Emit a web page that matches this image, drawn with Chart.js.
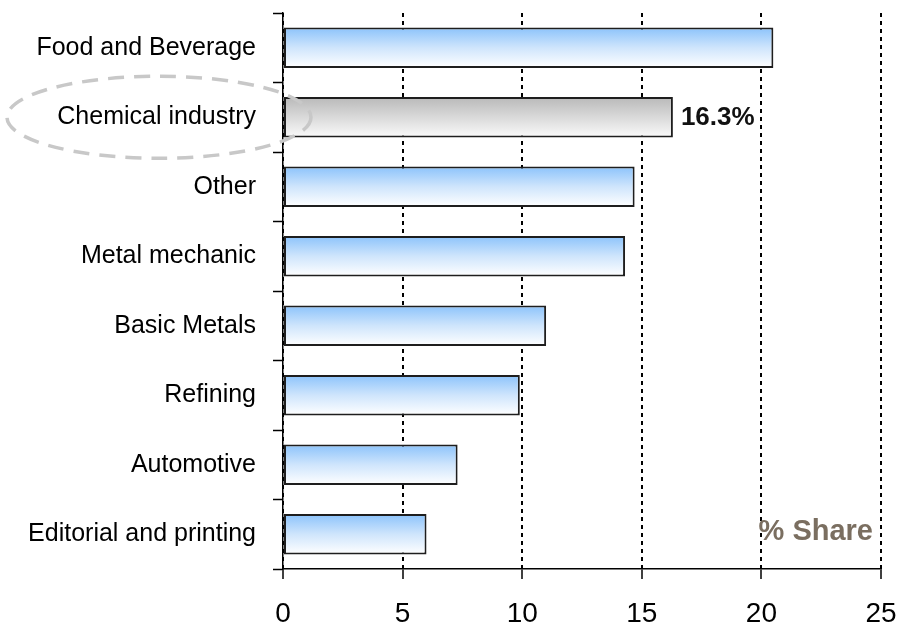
<!DOCTYPE html>
<html>
<head>
<meta charset="utf-8">
<script src="https://cdn.jsdelivr.net/npm/chart.js@4"></script>
<style>
  html, body { margin: 0; padding: 0; background: #fff; }
  #wrap { width: 897px; height: 630px; }
</style>
</head>
<body>
<div id="wrap"><canvas id="shareChart" width="897" height="630"></canvas></div>
<script>
const sectors = ['Food and Beverage', 'Chemical industry', 'Other', 'Metal mechanic',
  'Basic Metals', 'Refining', 'Automotive', 'Editorial and printing'];
const shares = [20.5, 16.3, 14.7, 14.3, 11.0, 9.9, 7.3, 6.0];
const xTicks = [0, 5, 10, 15, 20, 25];
const highlighted = 'Chemical industry';

const FONT = "'Liberation Sans', Arial, sans-serif";

// vertical gradient for each bar, blue for normal, grey for the highlighted one
function barFill(c) {
  const chart = c.chart;
  const y = chart.scales.y;
  if (!chart.chartArea || !y) return '#a8d0f8';
  const mid = y.getPixelForValue(c.dataIndex);
  const half = 20;
  const g = chart.ctx.createLinearGradient(0, mid - half, 0, mid + half);
  if (sectors[c.dataIndex] === highlighted) {
    g.addColorStop(0, '#b9b9b9');
    g.addColorStop(1, '#fafafa');
  } else {
    g.addColorStop(0, '#8cc3fb');
    g.addColorStop(0.5, '#cfe5fc');
    g.addColorStop(1, '#ffffff');
  }
  return g;
}

// value label, "% Share" note and dashed ellipse round the highlighted label
const extras = {
  id: 'extras',
  afterDatasetsDraw(chart) {
    const ctx = chart.ctx;
    const x = chart.scales.x, y = chart.scales.y;
    const i = sectors.indexOf(highlighted);
    const cy = y.getPixelForValue(i);

    ctx.save();
    ctx.fillStyle = '#111';
    ctx.font = 'bold 26px ' + FONT;
    ctx.textBaseline = 'middle';
    ctx.textAlign = 'left';
    ctx.fillText(shares[i].toFixed(1) + '%', x.getPixelForValue(shares[i]) + 8, cy + 1);

    ctx.fillStyle = '#7a6e60';
    ctx.font = 'bold 29px ' + FONT;
    ctx.textAlign = 'right';
    ctx.fillText('% Share', chart.chartArea.right - 8, y.getPixelForValue(sectors.length - 1) - 2);

    ctx.strokeStyle = '#c8c8c8';
    ctx.lineWidth = 3.5;
    ctx.setLineDash([16, 10]);
    ctx.beginPath();
    ctx.ellipse(chart.chartArea.left - 124, cy, 152, 41, 0, 0, Math.PI * 2);
    ctx.stroke();
    ctx.restore();
  }
};

new Chart(document.getElementById('shareChart'), {
  type: 'bar',
  data: {
    labels: sectors,
    datasets: [{
      data: shares,
      backgroundColor: barFill,
      borderColor: '#1e1e1e',
      borderWidth: 2,
      borderSkipped: false,
      categoryPercentage: 1,
      barPercentage: 0.58
    }]
  },
  options: {
    indexAxis: 'y',
    responsive: false,
    animation: false,
    layout: { padding: { top: 13, right: 16, left: 0, bottom: 0 } },
    plugins: { legend: { display: false }, tooltip: { enabled: false } },
    scales: {
      x: {
        min: 0,
        max: 25,
        afterBuildTicks: s => { s.ticks = xTicks.map(v => ({ value: v })); },
        afterFit: s => { s.height = 61; s.paddingLeft = 0; s.paddingRight = 0; },
        grid: {
          color: '#000',
          lineWidth: 2,
          drawTicks: true,
          tickLength: 10,
          tickColor: '#000',
          tickWidth: 1.5
        },
        border: { display: true, color: '#000', width: 1.5, dash: [4, 4] },
        ticks: {
          color: '#000',
          padding: 18,
          font: { family: FONT, size: 28 }
        }
      },
      y: {
        afterFit: s => { s.width = 283; s.paddingTop = 0; s.paddingBottom = 0; },
        grid: {
          drawOnChartArea: false,
          drawTicks: true,
          offset: true,
          tickLength: 10,
          tickColor: '#000',
          tickWidth: 1.5
        },
        border: { display: true, color: '#000', width: 1.5 },
        ticks: {
          color: '#000',
          padding: 17,
          font: { family: FONT, size: 25 }
        }
      }
    }
  },
  plugins: [extras]
});
</script>
</body>
</html>
